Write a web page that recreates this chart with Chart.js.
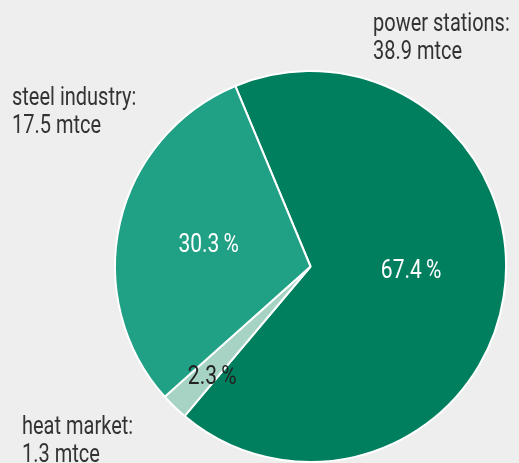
<!DOCTYPE html>
<html>
<head>
<meta charset="utf-8">
<script src="https://cdn.jsdelivr.net/npm/chart.js@4.4.0/dist/chart.umd.min.js"></script>
<style>
  html, body { margin: 0; padding: 0; background: #eeeeee; }
  #wrap { width: 519px; height: 463px; }
</style>
</head>
<body>
<div id="wrap"><canvas id="chart" width="519" height="463"></canvas></div>
<script>
// data
const categories = ['power stations', 'heat market', 'steel industry']
const values = [38.9, 1.3, 17.5]   // mtce
const sliceColors = ['#007f5f', '#a6d3c3', '#20a085']
const pctColors = ['#ffffff', '#222222', '#ffffff']

const total = values.reduce((a, b) => a + b, 0)

// outside labels: [x, baseline of first line]
const outsidePos = [[373, 31], [22, 434], [12, 105]]
// percent labels: fraction of radius, and angle shift (deg) from the slice middle
const pctRadius = [0.515, 0.75, 0.534]
const pctShift = [-7.6, -2.1, 0]

const FONT = 'Roboto, "Liberation Sans", sans-serif'

function condensedText(ctx, txt, x, y, align, squeeze) {
  ctx.save()
  ctx.translate(x, y)
  ctx.scale(squeeze, 1)
  ctx.textAlign = align
  ctx.fillText(txt, 0, 0)
  ctx.restore()
}

const labelPlugin = {
  id: 'labels',
  afterDatasetsDraw(chart) {
    const ctx = chart.ctx
    const meta = chart.getDatasetMeta(0)
    ctx.save()
    ctx.textBaseline = 'alphabetic'
    meta.data.forEach((arc, i) => {
      const p = arc.getProps(['x', 'y', 'startAngle', 'endAngle', 'outerRadius'], true)
      const mid = (p.startAngle + p.endAngle) / 2 + pctShift[i] * Math.PI / 180
      const r = p.outerRadius * pctRadius[i]
      const pct = (values[i] / total * 100).toFixed(1) + '\u2009%'
      ctx.fillStyle = pctColors[i]
      ctx.font = '25px ' + FONT
      // shift baseline so the digits are centred on the point
      condensedText(ctx, pct, p.x + Math.cos(mid) * r, p.y + Math.sin(mid) * r + 9, 'center', 0.84)

      ctx.fillStyle = '#333333'
      ctx.font = '25px ' + FONT
      const [lx, ly] = outsidePos[i]
      condensedText(ctx, categories[i] + ':', lx, ly, 'left', 0.8)
      condensedText(ctx, values[i].toFixed(1) + ' mtce', lx, ly + 28, 'left', 0.8)
    })
    ctx.restore()
  }
}

new Chart(document.getElementById('chart').getContext('2d'), {
  type: 'pie',
  data: {
    labels: categories,
    datasets: [{
      data: values,
      backgroundColor: sliceColors,
      borderColor: '#ffffff',
      borderWidth: 2
    }]
  },
  options: {
    responsive: false,
    animation: false,
    rotation: -22.6,
    layout: { padding: { left: 114, right: 12, top: 70, bottom: 0 } },
    plugins: {
      legend: { display: false },
      tooltip: { enabled: false }
    }
  },
  plugins: [labelPlugin]
})
</script>
</body>
</html>
